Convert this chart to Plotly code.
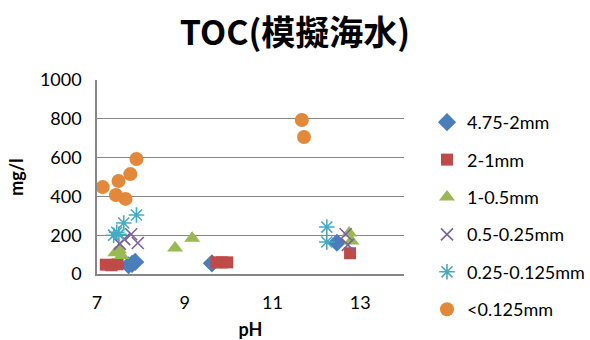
import plotly.graph_objects as go

# TOC measurements (mg/l) against pH for each particle-size fraction
ph_475_2 = [7.72, 7.80, 7.87, 9.62, 12.47]
toc_475_2 = [45, 52, 62, 55, 161]

ph_2_1 = [7.20, 7.33, 7.47, 9.72, 9.85, 9.97, 12.77]
toc_2_1 = [48, 45, 50, 60, 60, 60, 107]

ph_1_05 = [7.42, 7.50, 7.56, 8.78, 9.17, 12.75, 12.80]
toc_1_05 = [110, 125, 95, 134, 184, 211, 170]

ph_05_025 = [7.52, 7.62, 7.78, 7.93, 12.67, 12.72]
toc_05_025 = [155, 180, 205, 160, 205, 150]

ph_025_0125 = [7.38, 7.45, 7.50, 7.61, 7.90, 12.24, 12.24]
toc_025_0125 = [200, 215, 205, 263, 304, 242, 165]

ph_lt0125 = [7.13, 7.43, 7.49, 7.65, 7.76, 7.90, 11.67, 11.72]
toc_lt0125 = [448, 407, 479, 387, 515, 593, 794, 706]

series_names = ["4.75-2mm", "2-1mm", "1-0.5mm", "0.5-0.25mm", "0.25-0.125mm", "<0.125mm"]
x_ticks = [7, 9, 11, 13]
y_ticks = [0, 200, 400, 600, 800, 1000]

FONT = "Lato, 'Noto Sans CJK JP', sans-serif"
W, H = 590, 340
L, R, T, B = 97, 186, 80, 66

fig = go.Figure()

styles = [
    (ph_475_2, toc_475_2, dict(symbol="diamond", size=14, color="#4A7EBB")),
    (ph_2_1, toc_2_1, dict(symbol="square", size=12, color="#BE4B48")),
    (ph_1_05, toc_1_05, dict(symbol="triangle-up", size=14, color="#98B954")),
    (ph_05_025, toc_05_025, dict(symbol="x-thin-open", size=12, color="#7D60A0",
                                 line=dict(width=1.6, color="#7D60A0"))),
    (ph_025_0125, toc_025_0125, dict(symbol="asterisk-open", size=13, color="#46AAC5",
                                     line=dict(width=1.6, color="#46AAC5"))),
    (ph_lt0125, toc_lt0125, dict(symbol="circle", size=14, color="#E3883A")),
]

for i, (name, (xs, ys, mk)) in enumerate(zip(series_names, styles)):
    fig.add_trace(go.Scatter(
        x=xs, y=ys, mode="markers", name=name, marker=mk,
        legendgroup=f"g{i}", cliponaxis=False,
    ))

fig.update_layout(
    width=W, height=H,
    margin=dict(l=L, r=R, t=T, b=B, autoexpand=False),
    paper_bgcolor="white", plot_bgcolor="white",
    font=dict(family=FONT, size=18, color="#000000"),
    title=dict(
        text="<b>TOC(模擬海水)</b>",
        x=0.5, xanchor="center", xref="container",
        y=1 - 33 / H, yanchor="middle", yref="container",
        font=dict(family="'Noto Sans CJK JP', sans-serif", size=34, color="#000000"),
    ),
    showlegend=True,
    legend=dict(
        x=427 / W, xref="container", xanchor="left",
        y=1 - 104 / H, yref="container", yanchor="top",
        font=dict(family=FONT, size=18),
        tracegroupgap=11,
        itemwidth=30,
        maxheight=1.0,
        bgcolor="rgba(0,0,0,0)",
    ),
)

fig.update_xaxes(
    range=[7, 14], tickvals=x_ticks, ticktext=[str(v) for v in x_ticks],
    showgrid=False, zeroline=False, automargin=False,
    showline=True, linecolor="#868686", linewidth=1.5,
    ticks="", ticklabelstandoff=12,
    title=dict(text="<b>pH</b>", font=dict(family=FONT, size=18), standoff=27),
)
fig.update_yaxes(
    range=[0, 1000], tickvals=y_ticks,
    showgrid=True, gridcolor="#868686", gridwidth=1,
    zeroline=False, automargin=False,
    showline=True, linecolor="#868686", linewidth=1.5,
    ticks="", ticklabelstandoff=10,
    title=dict(text="<b>mg/l</b>", font=dict(family=FONT, size=18), standoff=12),
)

fig.write_html("out.html")
